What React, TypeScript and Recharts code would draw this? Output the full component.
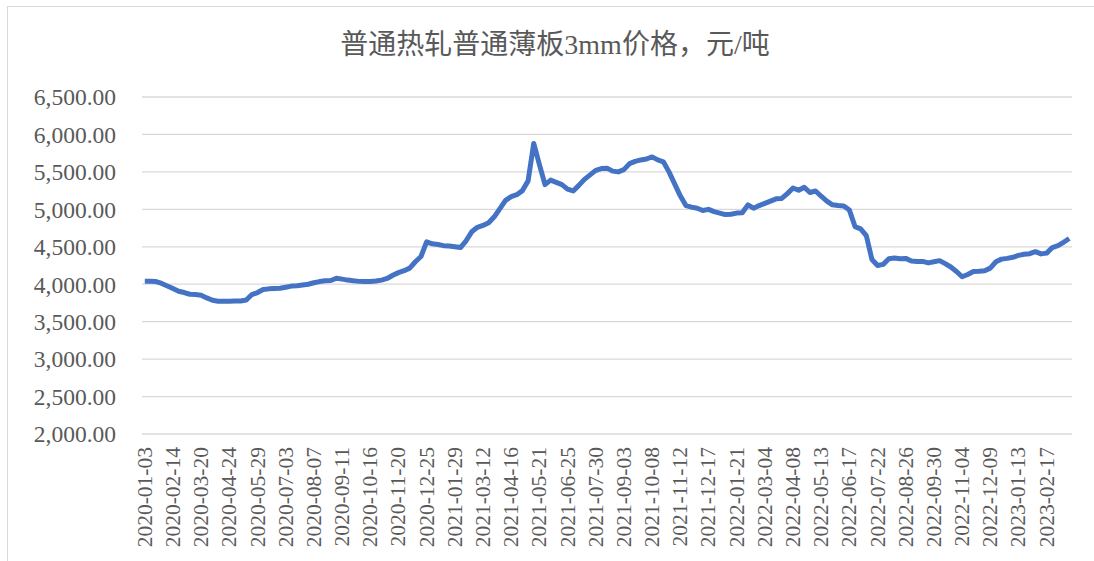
import { LineChart, Line, XAxis, YAxis, CartesianGrid } from "recharts"

const dates = [
  "2020-01-03", "2020-01-10", "2020-01-17", "2020-01-24", "2020-02-07", "2020-02-14", "2020-02-21", "2020-02-28", "2020-03-06", "2020-03-13",
  "2020-03-20", "2020-03-27", "2020-04-03", "2020-04-10", "2020-04-17", "2020-04-24", "2020-05-01", "2020-05-08", "2020-05-15", "2020-05-22",
  "2020-05-29", "2020-06-05", "2020-06-12", "2020-06-19", "2020-06-26", "2020-07-03", "2020-07-10", "2020-07-17", "2020-07-24", "2020-07-31",
  "2020-08-07", "2020-08-14", "2020-08-21", "2020-08-28", "2020-09-04", "2020-09-11", "2020-09-18", "2020-09-25", "2020-10-02", "2020-10-09",
  "2020-10-16", "2020-10-23", "2020-10-30", "2020-11-06", "2020-11-13", "2020-11-20", "2020-11-27", "2020-12-04", "2020-12-11", "2020-12-18",
  "2020-12-25", "2021-01-01", "2021-01-08", "2021-01-15", "2021-01-22", "2021-01-29", "2021-02-05", "2021-02-19", "2021-02-26", "2021-03-05",
  "2021-03-12", "2021-03-19", "2021-03-26", "2021-04-02", "2021-04-09", "2021-04-16", "2021-04-23", "2021-04-30", "2021-05-07", "2021-05-14",
  "2021-05-21", "2021-05-28", "2021-06-04", "2021-06-11", "2021-06-18", "2021-06-25", "2021-07-02", "2021-07-09", "2021-07-16", "2021-07-23",
  "2021-07-30", "2021-08-06", "2021-08-13", "2021-08-20", "2021-08-27", "2021-09-03", "2021-09-10", "2021-09-17", "2021-09-24", "2021-10-01",
  "2021-10-08", "2021-10-15", "2021-10-22", "2021-10-29", "2021-11-05", "2021-11-12", "2021-11-19", "2021-11-26", "2021-12-03", "2021-12-10",
  "2021-12-17", "2021-12-24", "2021-12-31", "2022-01-07", "2022-01-14", "2022-01-21", "2022-01-28", "2022-02-11", "2022-02-18", "2022-02-25",
  "2022-03-04", "2022-03-11", "2022-03-18", "2022-03-25", "2022-04-01", "2022-04-08", "2022-04-15", "2022-04-22", "2022-04-29", "2022-05-06",
  "2022-05-13", "2022-05-20", "2022-05-27", "2022-06-03", "2022-06-10", "2022-06-17", "2022-06-24", "2022-07-01", "2022-07-08", "2022-07-15",
  "2022-07-22", "2022-07-29", "2022-08-05", "2022-08-12", "2022-08-19", "2022-08-26", "2022-09-02", "2022-09-09", "2022-09-16", "2022-09-23",
  "2022-09-30", "2022-10-07", "2022-10-14", "2022-10-21", "2022-10-28", "2022-11-04", "2022-11-11", "2022-11-18", "2022-11-25", "2022-12-02",
  "2022-12-09", "2022-12-16", "2022-12-23", "2022-12-30", "2023-01-06", "2023-01-13", "2023-01-20", "2023-01-27", "2023-02-03", "2023-02-10",
  "2023-02-17", "2023-02-24", "2023-03-03", "2023-03-10", "2023-03-17",
]

// 元/吨
const prices = [
  4040, 4040, 4035, 4010, 3977, 3942, 3906, 3889, 3866, 3862,
  3853, 3817, 3786, 3773, 3773, 3773, 3777, 3777, 3790, 3862,
  3889, 3929, 3938, 3942, 3946, 3960, 3975, 3980, 3990, 4000,
  4020, 4035, 4045, 4050, 4080, 4068, 4055, 4045, 4038, 4035,
  4035, 4042, 4055, 4077, 4120, 4155, 4180, 4215, 4300, 4370,
  4565, 4540, 4530, 4515, 4510, 4500, 4490, 4580, 4700, 4760,
  4785, 4820, 4900, 5010, 5120, 5170, 5195, 5250, 5380, 5880,
  5600, 5330, 5390, 5360, 5330, 5270, 5245, 5320, 5400, 5460,
  5520, 5545, 5550, 5510, 5500, 5530, 5610, 5640, 5660, 5672,
  5700, 5660, 5635, 5500, 5340, 5180, 5050, 5030, 5015, 4985,
  5000, 4970, 4950, 4930, 4935, 4950, 4955, 5060, 5015, 5050,
  5080, 5110, 5140, 5145, 5210, 5285, 5255, 5295, 5225, 5245,
  5175, 5110, 5060, 5050, 5045, 4990, 4770, 4740, 4650, 4330,
  4250, 4265, 4340, 4350, 4340, 4345, 4310, 4305, 4305, 4285,
  4300, 4315, 4275, 4230, 4170, 4100, 4130, 4170, 4172, 4180,
  4215, 4300, 4335, 4345, 4360, 4385, 4400, 4408, 4435, 4405,
  4415, 4490, 4515, 4560, 4610,
]

const yTicks = [2000, 2500, 3000, 3500, 4000, 4500, 5000, 5500, 6000, 6500]

const data = dates.map((d, i) => ({ date: d, price: prices[i] }))

const serif = '"Liberation Serif", "Times New Roman", "Noto Sans CJK SC", serif'

const fmt = (v: number) =>
  v.toLocaleString("en-US", { minimumFractionDigits: 2, maximumFractionDigits: 2 })

function DateTick({ x, y, payload }: any) {
  return (
    <text
      x={x}
      y={y + 5}
      transform={`rotate(-90 ${x} ${y + 5})`}
      textAnchor="end"
      dominantBaseline="central"
      fill="#595959"
      fontSize={21.5}
      fontFamily={serif}
    >
      {payload.value}
    </text>
  )
}

export default function App() {
  return (
    <div style={{ position: "absolute", left: 0, top: 0, width: 1094, height: 561, background: "#fff", overflow: "hidden" }}>
      <div
        style={{
          position: "absolute",
          left: 7,
          top: 6,
          width: 1100,
          height: 570,
          border: "1px solid #d9d9d9",
          boxSizing: "border-box",
        }}
      />
      <div
        style={{
          position: "absolute",
          left: 0,
          width: 1110,
          top: 28,
          textAlign: "center",
          fontFamily: serif,
          fontSize: 28,
          color: "#595959",
          lineHeight: "34px",
        }}
      >
        普通热轧普通薄板3mm价格，元/吨
      </div>
      <div style={{ position: "absolute", left: 0, top: 0 }}>
        <LineChart width={1094} height={561} data={data} margin={{ top: 97, right: 22, bottom: 7, left: 12 }}>
          <CartesianGrid vertical={false} stroke="#d9d9d9" strokeWidth={1.3} />
          <XAxis
            dataKey="date"
            interval={4}
            axisLine={false}
            tickLine={false}
            height={120}
            padding={{ left: 2.8, right: 2.8 }}
            tick={<DateTick />}
          />
          <YAxis
            domain={[2000, 6500]}
            ticks={yTicks}
            width={130}
            axisLine={false}
            tickLine={false}
            tickMargin={20}
            tickFormatter={fmt}
            tick={{ fill: "#595959", fontSize: 23.5, fontFamily: serif }}
          />
          <Line
            type="linear"
            dataKey="price"
            stroke="#4472C4"
            strokeWidth={5}
            strokeLinejoin="round"
            dot={false}
            isAnimationActive={false}
          />
        </LineChart>
      </div>
    </div>
  )
}
